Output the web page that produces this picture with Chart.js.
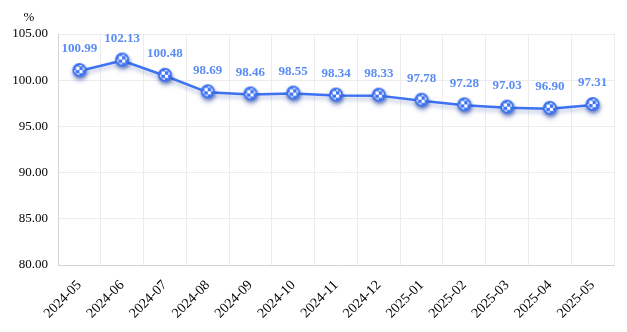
<!DOCTYPE html>
<html>
<head>
<meta charset="utf-8">
<script src="https://cdn.jsdelivr.net/npm/chart.js@4/dist/chart.umd.min.js"></script>
<style>
  html, body { margin: 0; padding: 0; background: #fff; }
  #wrap { position: relative; width: 627px; height: 332px; }
</style>
</head>
<body>
<div id="wrap"><canvas id="lineChart"></canvas></div>
<script>
// Monthly index values (%)
const months = ["2024-05", "2024-06", "2024-07", "2024-08", "2024-09", "2024-10", "2024-11",
                "2024-12", "2025-01", "2025-02", "2025-03", "2025-04", "2025-05"];
const indexValues = [100.99, 102.13, 100.48, 98.69, 98.46, 98.55, 98.34, 98.33, 97.78, 97.28, 97.03, 96.90, 97.31];
const yTicks = [80, 85, 90, 95, 100, 105];

const SERIF = "'Liberation Serif', 'Times New Roman', serif";
const LINE_BLUE = "#3d72f2";

// checkered marker drawn once on an offscreen canvas
function makeMarker() {
    const size = 22, c = document.createElement("canvas");
    c.width = size; c.height = size;
    const g = c.getContext("2d");
    const cx = size / 2, cy = size / 2 - 1;
    g.save();
    g.shadowColor = "rgba(40,70,160,0.45)";
    g.shadowBlur = 3;
    g.shadowOffsetX = 1;
    g.shadowOffsetY = 2;
    g.beginPath();
    g.arc(cx, cy, 7, 0, Math.PI * 2);
    g.fillStyle = LINE_BLUE;
    g.fill();
    g.restore();
    g.save();
    g.beginPath();
    g.arc(cx, cy, 5, 0, Math.PI * 2);
    g.clip();
    const sq = 3.4;
    for (let i = -2; i < 2; i++) {
        for (let j = -2; j < 2; j++) {
            g.fillStyle = ((i + j) & 1) ? LINE_BLUE : "#ffffff";
            g.fillRect(cx + i * sq, cy + j * sq, sq, sq);
        }
    }
    g.restore();
    return c;
}

// soft shadow under the line
const lineShadow = {
    id: "lineShadow",
    beforeDatasetDraw(chart) {
        const ctx = chart.ctx;
        ctx.save();
        ctx.shadowColor = "rgba(40,70,160,0.35)";
        ctx.shadowBlur = 4;
        ctx.shadowOffsetY = 3;
    },
    afterDatasetDraw(chart) {
        chart.ctx.restore();
    }
};

// value labels above each point
const valueLabels = {
    id: "valueLabels",
    afterDatasetsDraw(chart) {
        const ctx = chart.ctx;
        const meta = chart.getDatasetMeta(0);
        ctx.save();
        ctx.font = "bold 13px " + SERIF;
        ctx.fillStyle = "#5b8cf5";
        ctx.textAlign = "center";
        ctx.textBaseline = "middle";
        meta.data.forEach((pt, i) => {
            ctx.fillText(indexValues[i].toFixed(2), pt.x, pt.y - 22);
        });
        ctx.restore();
    }
};

// unit label over the y axis
const unitLabel = {
    id: "unitLabel",
    afterDraw(chart) {
        const ctx = chart.ctx;
        ctx.save();
        ctx.font = "13px " + SERIF;
        ctx.fillStyle = "#000";
        ctx.textAlign = "center";
        ctx.textBaseline = "middle";
        ctx.fillText("%", 29, 18);
        ctx.restore();
    }
};

new Chart(document.getElementById("lineChart"), {
    type: "line",
    data: {
        labels: months,
        datasets: [{
            data: indexValues,
            borderColor: LINE_BLUE,
            borderWidth: 2.5,
            pointStyle: makeMarker(),
            tension: 0,
            fill: false
        }]
    },
    options: {
        responsive: true,
        maintainAspectRatio: false,
        animation: false,
        layout: { padding: { top: 34, right: 13, left: 0, bottom: 0 } },
        plugins: {
            legend: { display: false },
            tooltip: { enabled: false }
        },
        scales: {
            x: {
                offset: true,
                afterFit(axis) { axis.height = 67; },
                grid: { color: "#ececec", offset: true, drawTicks: false },
                border: { color: "#d4d4d4" },
                ticks: {
                    color: "#000",
                    font: { family: SERIF, size: 14 },
                    maxRotation: 45,
                    minRotation: 45,
                    padding: 12,
                    autoSkip: false
                }
            },
            y: {
                min: 80,
                max: 105,
                afterBuildTicks(axis) {
                    axis.ticks = yTicks.map(v => ({ value: v }));
                },
                afterFit(axis) { axis.width = 58; },
                grid: { color: "#ececec", drawTicks: false },
                border: { color: "#d4d4d4" },
                ticks: {
                    color: "#000",
                    font: { family: SERIF, size: 13 },
                    padding: 10,
                    callback: v => v.toFixed(2)
                }
            }
        }
    },
    plugins: [lineShadow, valueLabels, unitLabel]
});
</script>
</body>
</html>
